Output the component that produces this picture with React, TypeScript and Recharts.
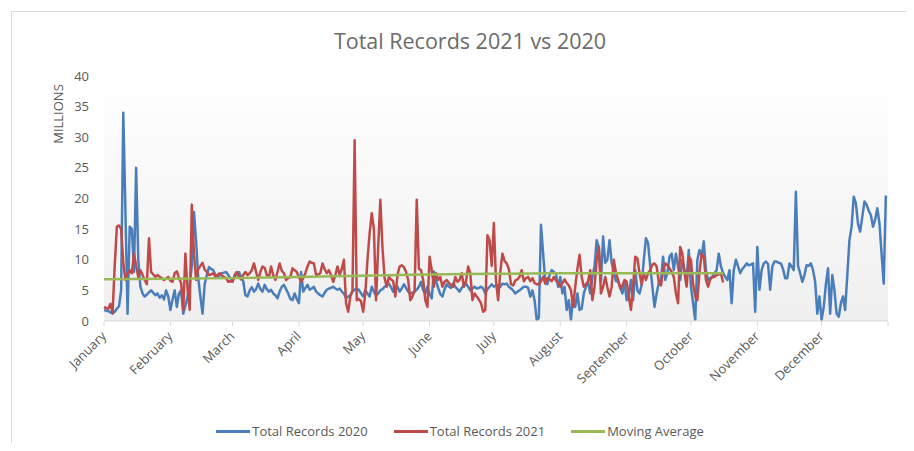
import { LineChart, Line, XAxis, YAxis, CartesianGrid } from 'recharts';

const months = ['January', 'February', 'March', 'April', 'May', 'June', 'July', 'August', 'September', 'October', 'November', 'December', ''];
const monthStarts = [0, 31, 60, 91, 121, 152, 182, 213, 244, 274, 305, 335, 366];
const yTicks = [0, 5, 10, 15, 20, 25, 30, 35, 40];

// daily totals, millions (day 0 = Jan 1)
const records2020 = [
  1.8, 1.7, 1.6, 1.4, 1.2, 1.5, 2.0, 2.4, 5.0, 34,
  18, 1.2, 15.4, 15.0, 8.0, 25, 10, 5.6, 4.5, 4.0,
  4.3, 4.7, 5.0, 4.6, 4.2, 4.5, 3.8, 4.2, 3.5, 5.0,
  4.0, 1.8, 3.5, 5.0, 2.3, 4.5, 5.0, 1.2, 2.5, 4.0,
  6.0, 9.0, 17.8, 13, 7.0, 4.0, 1.2, 6.0, 7.5, 8.8,
  8.5, 8.3, 7.5, 7.2, 7.5, 7.8, 7.9,
  8.0, 7.5, 7.0, 6.5, 7.2, 7.8, 8.0, 7.2, 6.5, 4.2,
  4.0, 5.0, 5.5, 4.8, 5.2, 6.1, 5.2, 4.8, 5.9, 5.2,
  4.8, 5.1, 4.5, 4.2, 3.7, 4.8, 5.6, 5.9, 5.2, 4.5,
  3.6, 3.4, 4.5, 3.6, 2.9, 8.0, 4.8, 5.4, 5.9, 5.1,
  5.3, 5.6, 4.8, 4.5, 4.2, 4.0, 4.6, 5.1, 5.3, 5.4,
  5.6, 5.3, 5.1, 5.3, 4.8, 4.5, 3.7, 4.0, 4.2, 4.8, 5.1,
  5.3, 5.1, 4.5, 4.0, 5.0, 4.5, 4.0, 5.6, 4.8, 4.2,
  4.5, 5.0, 5.2, 5.6, 5.9, 6.1, 5.5, 4.8, 5.0, 5.6,
  4.8, 5.3, 6.0, 5.4, 4.8, 4.5, 4.6, 4.8, 5.1, 5.6,
  6.4, 5.0, 4.5, 5.6, 4.4, 3.7, 8.1, 6.5, 5.4, 4.4,
  4.0, 5.2, 6.0, 5.6, 5.4, 6.1, 5.6, 5.2, 4.8, 5.4,
  5.9, 6.1, 5.6, 5.0, 5.3, 5.6, 5.3, 5.4, 5.6, 5.3,
  4.5, 5.2, 5.6, 6.0, 5.6, 5.8, 5.9, 5.6, 6.1, 6.0,
  6.1, 5.6, 5.3, 5.0, 4.5, 4.8, 5.0, 5.3, 5.6, 5.6,
  5.4, 4.0, 5.0, 3.4, 0.2, 0.5, 15.7, 11, 6.5, 6.0,
  7.5, 8.3, 8.0, 7.7, 5.6, 7.2, 4.5, 5.6, 1.8, 3.4,
  0.2, 4.0, 2.3, 4.5, 1.8, 2.0, 4.5, 5.6, 6.4, 4.5,
  7.2, 8.9, 13.2, 12, 6.5, 13.8, 9.5, 10, 13.2, 9.5,
  8.0, 6.5, 6.5, 5.5, 4.5, 6.4, 3.4, 4.0, 6.7, 3.4,
  8.3, 5.0, 4.5, 5.9, 10, 13.5, 12.7, 8.9, 5.6, 2.3,
  4.5, 6.2, 6.7, 10.5, 6.7, 7.8, 10.5, 11, 8.3, 11,
  8.9, 6.7, 10, 8.3, 6.7, 11.6, 5.6, 2.9, 0.2, 10,
  11.6, 10.5, 13, 8.3, 6.7, 7.0, 7.2, 7.8, 8.3, 11,
  8.9, 7.8, 7.2, 6.7, 8.3, 2.9, 8.3, 10, 8.9, 7.8,
  8.5, 8.9, 9.4, 9.1, 9.2, 9.4, 1.5, 12.1, 5.1, 8.3,
  9.4, 9.7, 9.3, 5.1, 8.9, 9.7, 9.7, 9.5, 9.4, 8.5,
  7.0, 7.0, 9.4, 8.9, 8.3, 21.1, 9.0, 7.8, 6.4, 7.5,
  9.1, 9.0, 9.4, 8.3, 6.4, 1.2, 4.0, 0.2, 2.3, 6.0,
  8.6, 1.2, 7.5, 5.0, 1.2, 0.7, 2.9, 4.0, 1.8, 7.5,
  13.2, 15.4, 20.3, 19.2, 15.9, 14.6, 17, 19.5, 19.0, 18.0,
  17.3, 15.4, 16.5, 18.4, 16, 11, 6.1, 20.5,
];

const records2021 = [
  2.3, 2.1, 2.0, 2.8, 1.3, 9.0, 15.4, 15.6, 15.0, 9.5,
  6.7, 7.8, 8.3, 7.8, 11, 9.0, 7.2, 8.3, 7.5, 6.7,
  6.0, 13.5, 8.0, 7.6, 7.2, 7.5, 7.2, 7.0, 6.7, 6.9,
  7.2, 6.6, 6.4, 7.8, 8.1, 7.0, 6.2, 1.8, 11, 5.2,
  1.8, 19, 11, 6.7, 8.5, 9.0, 9.5, 8.4, 8.0, 7.5,
  7.6, 7.8, 7.2, 7.5, 7.8, 7.4, 7.2,
  7.0, 6.4, 6.5, 6.4, 7.5, 8.0, 7.2, 6.8, 7.5, 8.0,
  7.5, 7.8, 8.3, 9.4, 8.0, 6.7, 8.0, 8.9, 8.7, 7.5,
  7.2, 8.9, 7.5, 6.7, 8.0, 9.4, 8.2, 7.8, 6.7, 7.0,
  7.2, 8.6, 8.3, 8.0, 7.2, 6.4, 7.0, 7.8, 8.9, 9.7,
  9.5, 9.4, 7.5, 7.6, 7.8, 9.4, 8.5, 7.8, 8.3, 7.5,
  6.4, 7.5, 8.9, 7.5, 8.5, 10.0, 2.9, 1.5, 4.0, 5.0, 29.5,
  3.4, 3.6, 3.2, 1.5, 4.5, 10, 14.3, 17.6, 15, 3.4,
  12, 19.8, 12, 7.0, 5.6, 7.2, 6.8, 6.5, 4.0, 7.5,
  8.9, 9.1, 8.8, 8.0, 6.7, 3.4, 4.0, 5.0, 19.8, 8.5,
  8.3, 6.7, 3.4, 2.3, 10.5, 8.3, 5.6, 7.8, 6.7, 7.2,
  5.6, 6.4, 6.7, 6.2, 5.9, 5.6, 7.2, 6.4, 6.7, 7.8,
  5.6, 6.5, 8.9, 7.8, 3.4, 4.5, 4.0, 3.5, 2.9, 1.5,
  1.8, 14, 13.2, 9.0, 16, 6.5, 3.4, 8.0, 11, 9.8,
  9.4, 8.5, 6.0, 5.8, 6.6, 6.8, 7.2, 8.3, 6.5, 7.0,
  7.2, 6.5, 7.0, 6.2, 6.0, 6.0, 6.5, 7.2, 6.1, 7.0,
  6.8, 6.5, 7.2, 6.6, 6.2, 5.6, 6.2, 6.8, 6.2, 5.8,
  5.0, 2.3, 5.6, 8.5, 10.8, 7.2, 5.6, 6.0, 6.5, 8.3,
  3.4, 5.6, 10, 12.1, 4.5, 5.6, 7.2, 5.5, 4.0, 5.6,
  10, 7.8, 6.7, 5.3, 5.8, 6.7, 6.4, 4.0, 1.8, 5.6,
  10.5, 10.2, 7.8, 6.0, 7.8, 6.7, 7.8, 8.3, 9.2, 9.4,
  8.9, 6.4, 5.8, 8.3, 9.4, 9.1, 8.6, 8.0, 7.2, 4.5,
  2.9, 12.1, 11, 7.8, 5.6, 10.5, 10, 6.1, 4.0, 3.4,
  8.0, 11, 10.5, 6.7, 5.6, 6.8, 7.2, 7.2, 7.5, 7.6, 7.8, 6.3,
];

const avgDays = [0, 30, 60, 90, 120, 150, 180, 210, 240, 270, 289];
const avgValues = [6.8, 6.9, 7.0, 7.2, 7.4, 7.6, 7.7, 7.8, 7.8, 7.8, 7.8];

const data = records2020.map((v, d) => {
  const ai = avgDays.indexOf(d);
  return {
    day: d,
    r2020: v,
    r2021: d < records2021.length ? records2021[d] : null,
    avg: ai >= 0 ? avgValues[ai] : null,
  };
});

const FONT = '"Open Sans", sans-serif';
const GREY = '#595959';

function MonthTick({ x, y, payload }: any) {
  const i = monthStarts.indexOf(payload.value);
  const label = i >= 0 ? months[i] : '';
  const ax = x + 3;
  const ay = 337;
  return (
    <text x={ax} y={ay} transform={`rotate(-45 ${ax} ${ay})`} textAnchor="end" fill={GREY} fontSize={13} fontFamily={FONT}>
      {label}
    </text>
  );
}

const legend = [
  { name: 'Total Records 2020', color: '#4a7ebb' },
  { name: 'Total Records 2021', color: '#be4b48' },
  { name: 'Moving Average', color: '#98b954' },
];

export default function App() {
  return (
    <div style={{ position: 'relative', width: 914, height: 451, margin: -8, overflow: 'hidden', background: '#fff', fontFamily: FONT }}>
      <div style={{ position: 'absolute', left: 11, top: 11, width: 1000, height: 1000, border: '1px solid #d9d9d9' }} />
      <div style={{ position: 'absolute', left: 0, width: 940, top: 26, textAlign: 'center', fontSize: 21.5, color: '#6b6b6b' }}>
        Total Records 2021 vs 2020
      </div>
      <div style={{ position: 'absolute', left: 50, top: 82, width: 16, height: 63, display: 'flex', alignItems: 'center', justifyContent: 'center' }}>
        <div style={{ transform: 'rotate(-90deg)', fontSize: 13, color: GREY, whiteSpace: 'nowrap' }}>MILLIONS</div>
      </div>
      <div style={{ position: 'absolute', left: 0, top: 0 }}>
        <LineChart width={914} height={451} data={data} margin={{ top: 76, right: 26, bottom: 50, left: 60 }}>
          <defs>
            <linearGradient id="plotBg" x1="0" y1="0" x2="0" y2="1">
              <stop offset="0%" stopColor="#ffffff" />
              <stop offset="100%" stopColor="#efefef" />
            </linearGradient>
          </defs>
          <CartesianGrid horizontal={false} vertical={false} fill="url(#plotBg)" />
          <XAxis
            dataKey="day"
            type="number"
            domain={[0, 366]}
            ticks={monthStarts}
            interval={0}
            height={80}
            stroke="#d9d9d9"
            tickSize={5}
            tick={<MonthTick />}
          />
          <YAxis
            width={44}
            domain={[0, 40]}
            ticks={yTicks}
            axisLine={false}
            tickLine={false}
            tickMargin={9}
            tick={{ fill: GREY, fontSize: 13, fontFamily: FONT }}
          />
          <Line type="linear" dataKey="r2020" stroke="#4a7ebb" strokeWidth={2.5} strokeLinejoin="round" dot={false} isAnimationActive={false} />
          <Line type="linear" dataKey="r2021" stroke="#be4b48" strokeWidth={2.5} strokeLinejoin="round" dot={false} isAnimationActive={false} />
          <Line type="linear" dataKey="avg" stroke="#98b954" strokeWidth={2.5} dot={false} connectNulls isAnimationActive={false} />
        </LineChart>
      </div>
      <div style={{ position: 'absolute', left: 0, top: 422, width: 914, display: 'flex', justifyContent: 'center', gap: 26, fontSize: 13, color: GREY, paddingLeft: 6, boxSizing: 'border-box' }}>
        {legend.map((l) => (
          <div key={l.name} style={{ display: 'flex', alignItems: 'center' }}>
            <span style={{ display: 'inline-block', width: 34, height: 3, background: l.color, marginRight: 2 }} />
            <span>{l.name}</span>
          </div>
        ))}
      </div>
    </div>
  );
}
